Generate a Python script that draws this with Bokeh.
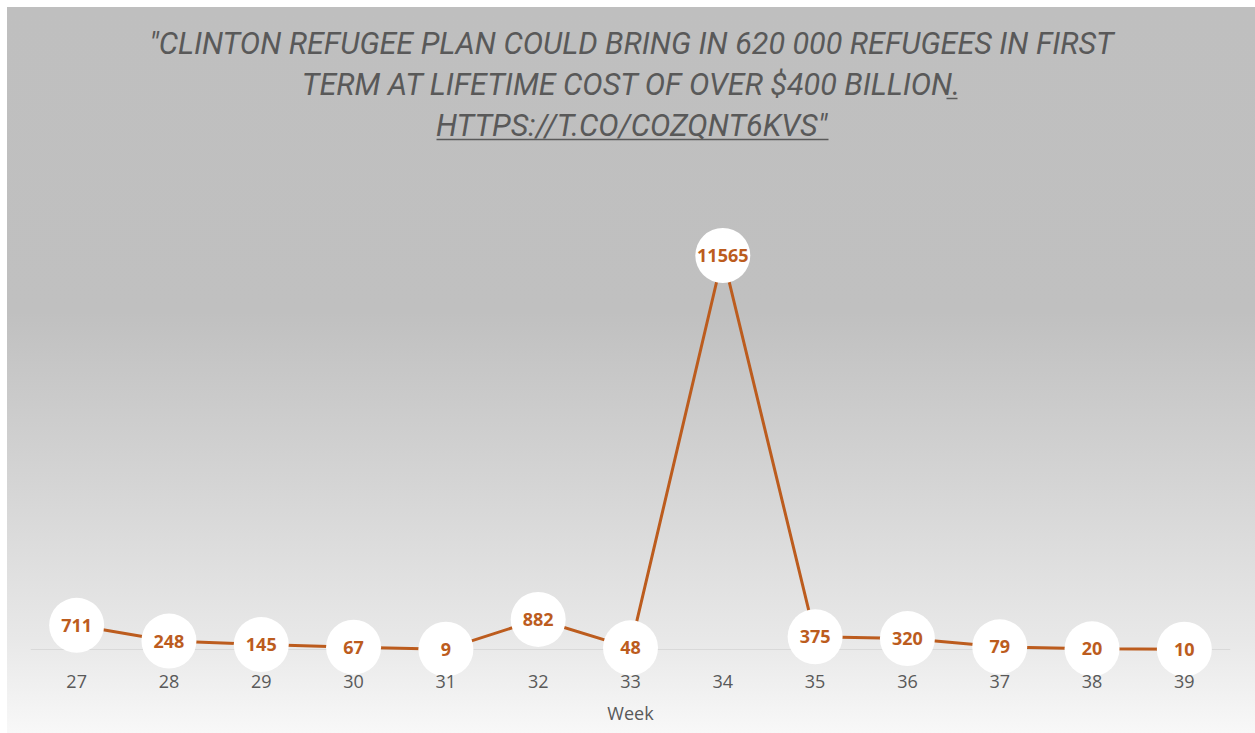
from bokeh.plotting import figure
from bokeh.models import Range1d, FixedTicker, LinearAxis, Span
from bokeh.core.properties import value
from bokeh.embed import file_html
from bokeh.resources import INLINE

# Weekly counts
weeks = [27, 28, 29, 30, 31, 32, 33, 34, 35, 36, 37, 38, 39]
counts = [711, 248, 145, 67, 9, 882, 48, 11565, 375, 320, 79, 20, 10]
week_labels = [str(w) for w in weeks]

title_lines = [
    '"CLINTON REFUGEE PLAN COULD BRING IN 620 000 REFUGEES IN FIRST',
    'TERM AT LIFETIME COST OF OVER $400 BILLION.',
    'HTTPS://T.CO/COZQNT6KVS"',
]

W, H = 1255, 733
LEFT, RIGHT, TOP, BOTTOM = 30, 1230, 7, 731      # frame edges in page pixels
BASE = 649                                        # pixel row of the zero line
PX_PER_UNIT = 394 / 11565
X0, X1 = 26.5, 39.5

LINE_COLOR = "#BC5C1E"
TEXT_GREY = "#595959"


def px_x(px):
    return X0 + (px - LEFT) / (RIGHT - LEFT) * (X1 - X0)


def px_y(py):
    return (BASE - py) / PX_PER_UNIT


p = figure(
    width=W, height=H,
    x_range=Range1d(X0, X1), y_range=Range1d(px_y(BOTTOM), px_y(TOP)),
    x_axis_location=None, y_axis_location=None,
    output_backend="svg", toolbar_location=None,
    min_border_left=LEFT, min_border_right=W - RIGHT,
    min_border_top=TOP, min_border_bottom=H - BOTTOM,
)
p.border_fill_color = None
p.background_fill_color = None
p.outline_line_color = None
p.grid.visible = False
p.styles = {
    "background": "linear-gradient(180deg, #bfbfbf 0%, #c0c0c0 42%, #d4d4d4 65%, #e8e8e8 87%, #f8f8f8 100%) "
                  "7px 7px / 1248px 726px no-repeat, #ffffff",
}

# Zero line behind the series
p.add_layout(Span(location=0, dimension="width", line_color="#d9d9d9",
                  line_width=1, level="underlay"))

ax = LinearAxis(fixed_location=0)
ax.ticker = FixedTicker(ticks=weeks)
ax.major_label_overrides = {w: s for w, s in zip(weeks, week_labels)}
ax.axis_line_color = None
ax.major_tick_line_color = None
ax.minor_tick_line_color = None
ax.major_label_standoff = 19
ax.major_label_text_font = "Open Sans"
ax.major_label_text_font_size = "18px"
ax.major_label_text_color = TEXT_GREY
ax.axis_label = "Week"
ax.axis_label_standoff = 10
ax.axis_label_text_font = "Open Sans"
ax.axis_label_text_font_size = "18px"
ax.axis_label_text_font_style = "normal"
ax.axis_label_text_color = TEXT_GREY
p.add_layout(ax, "below")

# Series line, white bubbles and value labels
p.line(weeks, counts, line_color=LINE_COLOR, line_width=3)
p.scatter(weeks, counts, size=55, fill_color="white", line_color=None)
p.text(weeks, counts, text=[str(c) for c in counts],
       text_align="center", text_baseline="middle",
       text_font=value("Open Sans"), text_font_style="bold",
       text_font_size="18px", text_color=LINE_COLOR)

# Chart title
title_x = px_x((7 + W) / 2)
title_y = [px_y(43), px_y(84), px_y(125)]
p.text([title_x] * 3, title_y, text=title_lines,
       text_align="center", text_baseline="middle",
       text_font=value("Roboto"), text_font_style="italic",
       text_font_size="30.5px", text_color=TEXT_GREY)

# Underlined link
p.segment(x0=[px_x(436), px_x(946)], y0=[px_y(139), px_y(98)],
          x1=[px_x(828), px_x(957)], y1=[px_y(139), px_y(98)],
          line_color=TEXT_GREY, line_width=1.5)

open("out.html", "w").write(file_html(p, INLINE))
